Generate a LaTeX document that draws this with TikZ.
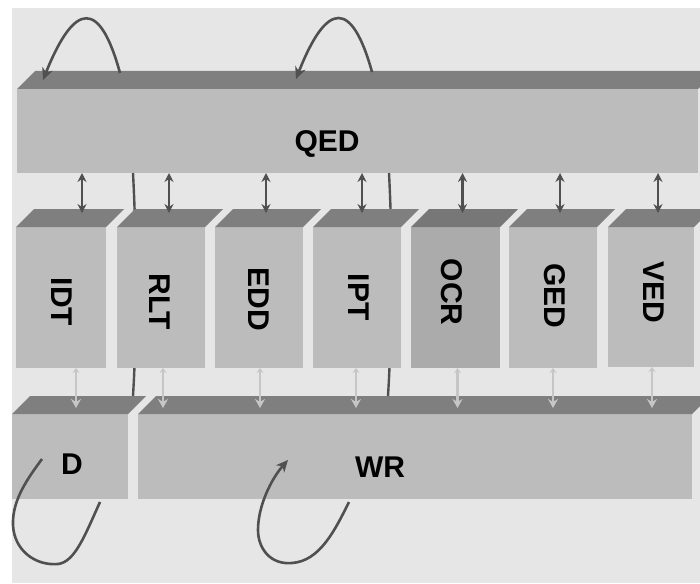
\documentclass[tikz,border=0pt]{standalone}
\usepackage{fontspec}
\setmainfont{Liberation Sans}
\usetikzlibrary{arrows.meta,calc}
\definecolor{bg}{HTML}{E6E6E6}
\definecolor{topc}{HTML}{7F7F7F}
\definecolor{frontc}{HTML}{BCBCBC}
\definecolor{ocrfront}{HTML}{ABABAB}
\definecolor{ocrtop}{HTML}{777777}
\definecolor{darkc}{HTML}{505050}
\definecolor{lightc}{HTML}{C6C6C6}
\newcommand\mybox[7]{%
  \node[frontbox, fill=#6, minimum width=#4pt, minimum height=#5pt] (#1) at (#2,#3) {};
  \fill[#7] (#1.north west) -- ++(18,-18) -- ([shift={(18,-18)}]#1.north east) -- (#1.north east) -- cycle;
}
\begin{document}
\begin{tikzpicture}[x=1pt,y=-1pt,
  frontbox/.style={draw=none, inner sep=0pt, outer sep=0pt, anchor=north west},
  lbl/.style={font=\fontsize{30}{32}\selectfont\bfseries, text=black, inner sep=0pt},
  vlbl/.style={lbl, rotate=-90},
  darr/.style={draw=darkc, line width=2.6pt, {Stealth[length=9pt,width=9pt]}-{Stealth[length=9pt,width=9pt]}},
  larr/.style={draw=lightc, line width=2.2pt, {Stealth[length=5pt,width=7pt]}-{Stealth[length=9pt,width=10pt]}},
  thru/.style={draw=darkc, line width=2.4pt},
  loopline/.style={draw=darkc, line width=2.6pt},
  looparr/.style={loopline, -{Stealth[length=12pt,width=11pt]}}
]
\path[use as bounding box] (0,0) rectangle (700,583);
\clip (0,0) rectangle (700,583);
\fill[white] (0,0) rectangle (700,583);
\fill[bg] (12,8) rectangle (700,583);

% big boxes
\mybox{QED}{17}{89}{681}{84}{frontc}{topc}
\mybox{D}{12}{414}{116}{85}{frontc}{topc}
\mybox{WR}{138}{414}{554}{85}{frontc}{topc}

% lines passing behind the middle boxes
\coordinate (t1s) at (133,173);
\coordinate (t1e) at (133,396);
\coordinate (t2s) at (389,173);
\coordinate (t2e) at (388,396);
\draw[thru] (t1s) .. controls (137,250) and (137,330) .. (t1e);
\draw[thru] (t2s) .. controls (393,250) and (392,330) .. (t2e);

% middle boxes
\mybox{IDT}{16}{227}{90}{141}{frontc}{topc}
\mybox{RLT}{117}{227}{88}{141}{frontc}{topc}
\mybox{EDD}{215}{227}{88}{141}{frontc}{topc}
\mybox{IPT}{313}{227}{88}{141}{frontc}{topc}
\mybox{OCR}{411}{227}{89}{141}{ocrfront}{ocrtop}
\mybox{GED}{509}{227}{88}{141}{frontc}{topc}
\mybox{VED}{608}{227}{86}{140}{frontc}{topc}

% labels
\node[lbl] (QEDl) at (327,144) {QED};
\node[vlbl] (IDTl) at (62,302) {IDT};
\node[vlbl] (RLTl) at (160,302) {RLT};
\node[vlbl] (EDDl) at (259,299) {EDD};
\node[vlbl] (IPTl) at (359,297) {IPT};
\node[vlbl] (OCRl) at (452,292) {OCR};
\node[vlbl] (GEDl) at (555,296) {GED};
\node[vlbl] (VEDl) at (654,292) {VED};
\node[lbl] (Dl) at (72,464) {D};
\node[lbl] (WRl) at (380,467) {WR};

% dark arrows QED <-> middle boxes
\foreach \n/\dx in {IDT/21, RLT/8, EDD/7, IPT/5, OCR/7, GED/7, VED/7}{
  \coordinate (\n-a) at ($(\n.north)+(\dx,-14)$);
  \draw[darr] (QED.south -| \n-a) -- (\n-a);
}
% light arrows middle boxes <-> bottom row
\foreach \n/\dx/\m in {IDT/15/D, RLT/2/WR, EDD/1/WR, IPT/-1/WR, OCR/2/WR, GED/0/WR, VED/1/WR}{
  \coordinate (\n-b) at ($(\n.south)+(\dx,0)$);
  \coordinate (\n-c) at ($(\n-b |- \m.north)+(0,-6)$);
  \draw[larr] (\n-b) -- (\n-c);
}

% self loops
\coordinate (L1s) at (120,73);
\coordinate (L1e) at (43,80);
\draw[looparr] (L1s) .. controls (100,0) and (75,0) .. (L1e);
\coordinate (L2s) at (372,72);
\coordinate (L2e) at (296,79);
\draw[looparr] (L2s) .. controls (352,0) and (327,0) .. (L2e);
\coordinate (L3s) at (100,502);
\coordinate (L3e) at (42,459);
\draw[loopline] (L3s) .. controls (85,535) and (75,562) .. (58,564)
  .. controls (35,566) and (14,550) .. (13,525)
  .. controls (12,500) and (28,478) .. (L3e);
\coordinate (L4s) at (349,502);
\coordinate (L4e) at (288,460);
\draw[looparr] (L4s) .. controls (335,530) and (320,561) .. (292,563)
  .. controls (270,565) and (258,548) .. (258,530)
  .. controls (258,505) and (272,478) .. (L4e);
\end{tikzpicture}
\end{document}
